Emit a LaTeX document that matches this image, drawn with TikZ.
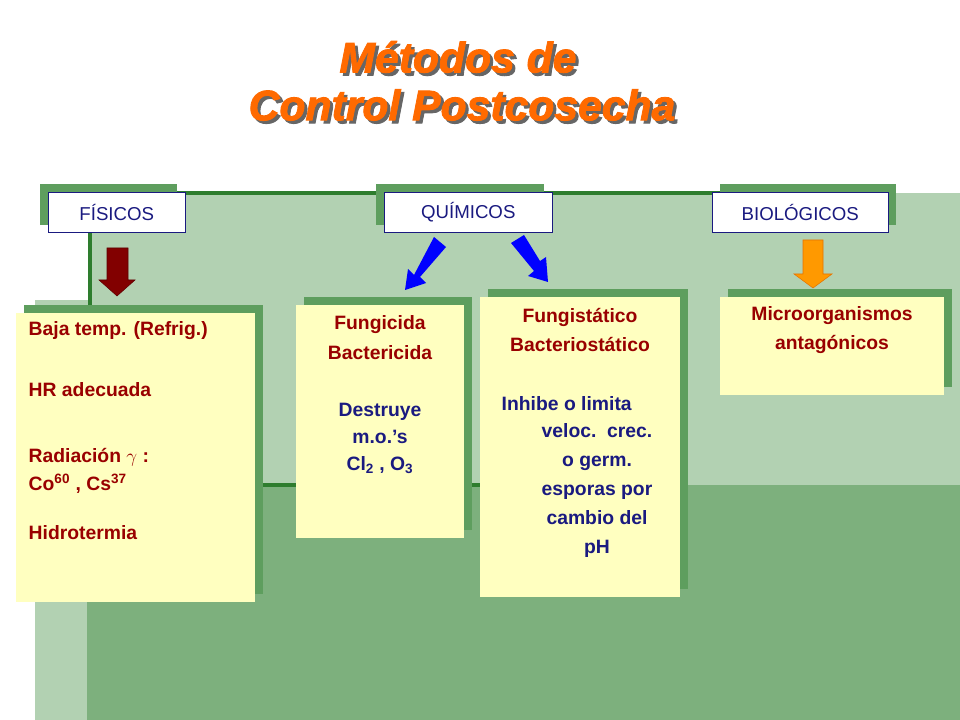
\documentclass[tikz,border=0pt]{standalone}
\usepackage{fontspec}
\setmainfont{Liberation Sans}
\newfontfamily\ttlfont[FakeBold=2]{Liberation Sans Bold Italic}
\definecolor{lg}{HTML}{B2D1B2}
\definecolor{dg}{HTML}{7DB07D}
\definecolor{sh}{HTML}{5E9E5E}
\definecolor{ln}{HTML}{2E7D2E}
\definecolor{yel}{HTML}{FFFFC0}
\definecolor{navy}{HTML}{1A1A80}
\definecolor{dred}{HTML}{990000}
\definecolor{ttl}{HTML}{FF6A00}
\begin{document}
\begin{tikzpicture}[x=0.75pt,y=-0.75pt,
  hdr/.style={draw=navy,fill=white,text=navy,font=\fontsize{14}{16}\selectfont,inner sep=0pt,anchor=north west},
  shad/.style={fill=sh},
  ybox/.style={fill=yel},
  rt/.style={text=dred,font=\bfseries\fontsize{14.5}{22.5}\selectfont},
  bt/.style={text=navy,font=\bfseries\fontsize{14.5}{21.75}\selectfont},
  ttlf/.style={font=\ttlfont\fontsize{32}{36}\selectfont}]
\useasboundingbox (0,0) rectangle (960,720);
\fill[white] (0,0) rectangle (960,720);
% background
\fill[lg] (90,193) rectangle (960,485);
\fill[lg] (35,300) rectangle (90,720);
\fill[dg] (87,485) rectangle (960,720);
\draw[ln,line width=3pt] (720,193) -- (90,193) -- (90,305);
\draw[ln,line width=3pt] (250,485) -- (490,485);
% title
\node[ttlf,text=black!60] at (461,60) {Métodos de};
\node[ttlf,text=black!60] at (465,108) {Control Postcosecha};
\node[ttlf,text=ttl] (t1) at (458,57) {Métodos de};
\node[ttlf,text=ttl] (t2) at (462,105) {Control Postcosecha};
% headers
\fill[shad] (40,184) rectangle (177,225);
\node[hdr,minimum width=102.75pt,minimum height=30pt] (fis) at (48,192) {FÍSICOS};
\fill[shad] (376,184) rectangle (544,225);
\node[hdr,minimum width=126pt,minimum height=30pt] (qui) at (384,192) {QUÍMICOS};
\fill[shad] (720,184) rectangle (896,225);
\node[hdr,minimum width=132pt,minimum height=30pt] (bio) at (712,192) {BIOLÓGICOS};
% content boxes
\fill[shad] (24,305) rectangle (263,594);
\fill[ybox] (16,313) rectangle (255,602);
\node[rt,anchor=west] (l1) at (24,331) {Baja temp. (Refrig.)};
\node[rt,anchor=west] (l2) at (24,390) {HR adecuada};
\node[rt,anchor=west] (l3) at (24,457) {Radiación $\gamma$ :};
\node[rt,anchor=west] (l4) at (24,484) {Co\textsuperscript{60} , Cs\textsuperscript{37}};
\node[rt,anchor=west] (l5) at (24,533) {Hidrotermia};
\fill[shad] (304,297) rectangle (472,530);
\fill[ybox] (296,305) rectangle (464,538);
\node[rt,align=center] (f1) at (380,338) {Fungicida\\Bactericida};
\node[bt,align=center,font=\bfseries\fontsize{14.5}{20.25}\selectfont] (f2) at (380,438) {Destruye\\m.o.’s\\Cl\textsubscript{2} , O\textsubscript{3}};
\fill[shad] (488,289) rectangle (688,589);
\fill[ybox] (480,297) rectangle (680,597);
\node[rt,align=center,font=\bfseries\fontsize{14.5}{21.75}\selectfont] (g1) at (580,330) {Fungistático\\Bacteriostático};
\node[bt,anchor=west] (g2) at (497,404) {Inhibe o limita};
\node[bt,align=center] (g3) at (597,490) {veloc.\ \ crec.\\o germ.\\esporas por\\cambio del\\pH};
\fill[shad] (728,289) rectangle (952,387);
\fill[ybox] (720,297) rectangle (944,395);
\node[rt,align=center,font=\bfseries\fontsize{14.5}{21.75}\selectfont] (m1) at (832,330) {Microorganismos\\antagónicos};
% arrows
\fill[dred!85!black,draw=dred!60!black] (107,248) -- (128,248) -- (128,280) -- (135,280) -- (117,296) -- (99,280) -- (107,280) -- cycle;
\fill[orange!80!yellow,draw=orange!90!black] (803,240) -- (823,240) -- (823,274) -- (832,274) -- (813,288) -- (794,274) -- (803,274) -- cycle;
\fill[blue] (434,237) -- (446,247) -- (420,277) -- (426,283) -- (405,290) -- (408,269) -- (414,275) -- cycle;
\fill[blue] (511,243) -- (524,235) -- (540,261) -- (546,257) -- (548,282) -- (528,276) -- (534,271) -- cycle;
\end{tikzpicture}
\end{document}
